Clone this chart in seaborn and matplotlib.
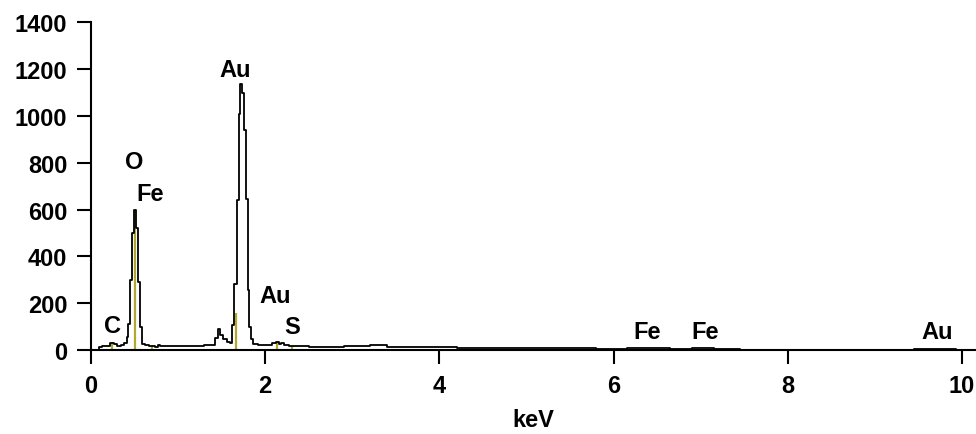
import matplotlib
matplotlib.use("Agg")
import matplotlib.pyplot as plt
import pandas as pd
import seaborn as sns

# EDS spectrum (keV, counts)
energy = [0.00, 0.08, 0.10, 0.16, 0.20, 0.24, 0.28, 0.32, 0.36, 0.40, 0.42,
          0.44, 0.46, 0.485, 0.505, 0.525, 0.55, 0.575, 0.60, 0.64, 0.70,
          0.76, 0.78, 0.80, 1.00, 1.20, 1.40, 1.44, 1.47, 1.50, 1.54, 1.58,
          1.61, 1.635, 1.66, 1.685, 1.705, 1.725, 1.745, 1.77, 1.79, 1.805,
          1.825, 1.85, 1.88, 1.95, 2.05, 2.10, 2.14, 2.17, 2.20, 2.24, 2.30,
          2.40, 2.6, 2.8, 3.0, 3.1, 3.3, 3.5, 3.8, 4.0, 4.4, 4.8, 5.2, 5.6,
          6.0, 6.3, 6.5, 6.8, 7.0, 7.3, 7.6, 8.0, 8.8, 9.2, 9.7, 10.16]
counts = [0, 0, 12, 15, 18, 32, 25, 18, 22, 30, 55,
          110, 300, 500, 600, 520, 290, 100, 25, 20, 18,
          12, 22, 18, 18, 18, 20, 50, 88, 65, 45, 35,
          30, 105, 280, 640, 1010, 1135, 1100, 940, 645, 255,
          100, 45, 25, 20, 20, 28, 35, 25, 28, 20, 18,
          15, 14, 12, 15, 18, 20, 14, 12, 12, 10, 9, 8, 8,
          6, 7, 8, 5, 7, 4, 2, 1, 2, 2, 4, 1]

# element marker lines
marker_kev = [0.24, 0.51, 0.70, 1.66, 2.13, 2.31]
marker_height = [32, 600, 18, 160, 30, 15]

# peak labels
label_text = ["C", "O", "Fe", "Au", "Au", "S", "Fe", "Fe", "Au"]
label_kev = [0.25, 0.50, 0.68, 1.66, 2.12, 2.31, 6.38, 7.05, 9.71]
label_counts = [106, 806, 670, 1197, 231, 99, 80, 80, 80]

sns.set_style("ticks")
plt.rcParams["font.family"] = ["Liberation Sans", "DejaVu Sans"]
plt.rcParams["font.weight"] = "bold"
plt.rcParams["text.color"] = "black"
plt.rcParams["axes.labelcolor"] = "black"
plt.rcParams["xtick.color"] = "black"
plt.rcParams["ytick.color"] = "black"

fig = plt.figure(figsize=(9.76, 4.35), dpi=100)
ax = fig.add_axes([0.0932, 0.1931, 0.9068, 0.7529])

df = pd.DataFrame({"keV": energy, "counts": counts})
ax.vlines(marker_kev, 0, marker_height, color="#b0a830", linewidth=1.6, zorder=1)
sns.lineplot(data=df, x="keV", y="counts", ax=ax, color="black",
             linewidth=1.3, drawstyle="steps-mid", zorder=2)

for t, x, y in zip(label_text, label_kev, label_counts):
    ax.text(x, y, t, ha="center", va="center", fontsize=17,
            fontweight="bold", color="black")

ax.set_xlim(0, 10.16)
ax.set_ylim(0, 1400)
ax.set_xticks([0, 2, 4, 6, 8, 10])
ax.set_yticks(range(0, 1401, 200))
ax.set_xlabel("keV", fontsize=17, fontweight="bold", labelpad=8)
ax.set_ylabel("")
ax.tick_params(axis="both", labelsize=17, length=10, width=1.5, pad=7,
               direction="out", color="black", labelcolor="black")
for lab in ax.get_xticklabels() + ax.get_yticklabels():
    lab.set_fontweight("bold")
sns.despine(ax=ax)
for s in ["left", "bottom"]:
    ax.spines[s].set_linewidth(1.5)
    ax.spines[s].set_color("black")
    ax.spines[s].set_clip_on(False)

fig.savefig("out.png", dpi=100)
